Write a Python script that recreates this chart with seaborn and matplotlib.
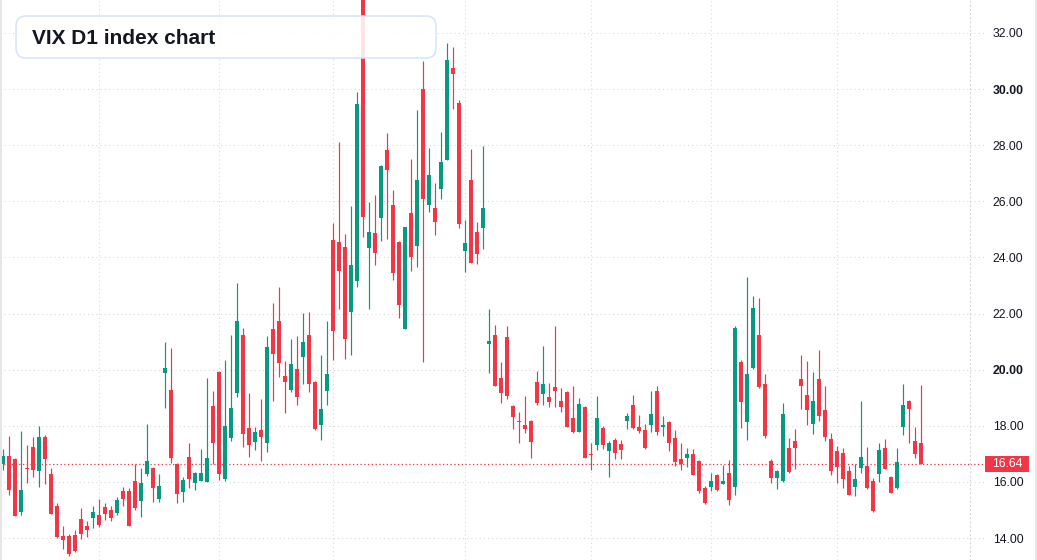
import numpy as np
import pandas as pd
import matplotlib
matplotlib.use("Agg")
import matplotlib.pyplot as plt
import seaborn as sns
from matplotlib.patches import FancyBboxPatch, Rectangle
from matplotlib.lines import Line2D
from matplotlib.transforms import IdentityTransform, blended_transform_factory

# ---------------- data ----------------
opens = [16.63, 16.92, 16.82, 14.94, 16.50, 17.24, 16.40, 17.60, 16.27, 15.14,
         14.07, 14.07, 14.11, 14.68, 14.43, 14.72, 14.82, 15.10, 15.00, 14.89,
         15.67, 15.67, 16.03, 15.33, 16.29, 16.49, 15.40, 19.89, 19.27, 16.64,
         15.65, 16.89, 15.97, 16.04, 16.01, 18.70, 19.93, 16.11, 17.57, 19.18,
         21.23, 17.92, 17.43, 17.85, 17.40, 21.45, 21.73, 19.77, 19.29, 20.02,
         20.46, 21.23, 19.56, 18.04, 19.25, 24.62, 24.55, 24.38, 22.07, 23.17,
         34.20, 24.35, 24.87, 25.41, 27.83, 25.87, 24.55, 21.46, 25.58, 24.42,
         30.00, 25.88, 25.76, 26.45, 27.48, 30.75, 29.50, 24.24, 26.76, 24.92,
         25.06, 20.93, 21.23, 19.70, 21.16, 18.70, 18.17, 18.03, 18.17, 19.56,
         19.14, 19.03, 19.38, 18.89, 19.20, 18.29, 17.79, 18.67, 16.99, 17.33,
         17.93, 17.11, 17.49, 17.35, 18.18, 18.74, 17.96, 17.85, 18.04, 19.24,
         17.97, 18.13, 17.56, 16.82, 16.86, 16.99, 16.75, 15.79, 15.83, 16.26,
         15.93, 16.33, 15.83, 20.27, 18.14, 20.07, 21.23, 19.49, 16.74, 16.15,
         16.04, 17.21, 17.46, 19.67, 19.10, 18.07, 19.67, 18.56, 17.53, 17.10,
         17.03, 16.39, 15.83, 16.51, 16.57, 16.03, 16.29, 17.21, 16.17, 15.79,
         17.97, 18.88, 17.46, 17.39]
highs = [17.17, 17.63, 16.86, 17.81, 17.31, 17.60, 17.99, 17.67, 16.49, 15.25,
         14.43, 14.14, 14.29, 15.07, 14.61, 15.14, 15.39, 15.25, 15.14, 15.46,
         15.82, 15.77, 16.64, 16.49, 18.06, 16.53, 16.28, 20.98, 20.77, 16.66,
         16.18, 17.39, 16.35, 17.17, 19.71, 19.24, 19.96, 20.34, 21.23, 23.09,
         21.48, 19.17, 17.96, 18.95, 21.20, 22.37, 22.94, 20.31, 21.09, 21.20,
         22.02, 22.05, 19.60, 20.52, 21.73, 25.24, 28.11, 24.83, 25.83, 29.89,
         34.90, 25.97, 26.22, 27.30, 28.43, 26.40, 24.57, 25.10, 27.51, 29.25,
         31.00, 27.90, 26.65, 28.47, 31.64, 31.50, 29.61, 25.33, 27.86, 25.27,
         27.97, 22.16, 21.59, 20.27, 21.56, 18.74, 18.49, 19.06, 18.21, 19.95,
         20.84, 19.52, 21.56, 19.36, 19.24, 19.42, 18.99, 18.70, 17.40, 19.06,
         18.00, 17.47, 17.57, 17.49, 18.46, 19.10, 18.38, 18.06, 19.24, 19.42,
         18.35, 18.17, 17.85, 17.39, 17.21, 17.17, 16.79, 15.86, 16.33, 16.29,
         16.60, 16.79, 21.56, 20.34, 23.30, 22.62, 22.55, 19.84, 16.82, 16.42,
         18.81, 17.57, 17.90, 20.52, 20.31, 19.92, 20.70, 19.42, 17.74, 17.28,
         17.21, 16.57, 16.64, 18.88, 17.24, 16.14, 17.39, 17.53, 16.22, 17.21,
         19.49, 18.92, 17.96, 19.45]
lows = [16.42, 15.53, 14.78, 14.83, 15.97, 16.19, 15.83, 15.94, 14.85, 14.00,
        13.62, 13.37, 13.50, 13.96, 14.05, 14.37, 14.40, 14.65, 14.61, 14.83,
        15.15, 14.42, 15.01, 14.76, 16.22, 15.29, 15.29, 18.64, 16.66, 15.26,
        15.29, 15.79, 15.72, 16.02, 15.98, 16.64, 16.08, 16.04, 17.47, 19.04,
        17.25, 16.90, 17.15, 16.75, 17.08, 18.89, 19.75, 18.47, 19.22, 18.75,
        19.50, 19.21, 17.86, 17.50, 18.75, 20.35, 22.17, 20.39, 20.53, 22.93,
        24.74, 22.17, 23.74, 24.60, 24.67, 23.21, 21.85, 21.44, 23.53, 23.67,
        20.28, 25.63, 24.81, 26.09, 27.46, 29.30, 25.06, 23.49, 23.79, 23.78,
        24.31, 19.89, 19.41, 18.82, 18.96, 17.90, 17.40, 17.75, 16.86, 18.75,
        18.75, 18.68, 18.68, 18.49, 17.95, 17.75, 17.77, 16.84, 16.43, 17.15,
        17.18, 16.19, 16.83, 16.83, 17.90, 17.90, 17.75, 17.17, 17.79, 17.68,
        17.64, 17.11, 16.58, 16.43, 16.54, 16.24, 15.61, 15.22, 15.69, 15.69,
        15.93, 15.19, 15.54, 17.93, 17.50, 20.03, 19.36, 17.57, 15.97, 15.76,
        16.01, 16.33, 16.47, 18.61, 18.04, 17.72, 18.18, 17.47, 16.26, 15.97,
        15.79, 15.52, 15.51, 16.33, 15.76, 14.94, 16.01, 16.45, 15.59, 15.76,
        17.68, 17.40, 16.86, 16.64]
closes = [16.92, 15.72, 14.80, 15.71, 16.46, 16.43, 17.60, 16.83, 14.87, 14.05,
          13.94, 13.44, 13.54, 14.15, 14.30, 14.93, 14.47, 14.86, 14.72, 15.35,
          15.40, 14.44, 15.08, 15.96, 16.74, 15.79, 15.85, 20.06, 16.86, 15.58,
          16.08, 16.11, 16.32, 16.32, 16.85, 17.40, 16.29, 18.00, 18.63, 21.73,
          17.72, 17.33, 17.78, 17.61, 20.81, 20.57, 20.25, 19.57, 20.20, 19.04,
          20.98, 19.50, 17.90, 18.60, 19.84, 21.39, 23.53, 21.10, 23.72, 29.47,
          25.45, 24.90, 24.17, 27.26, 27.13, 23.45, 22.31, 25.08, 24.03, 26.76,
          26.09, 26.94, 25.27, 27.40, 31.03, 30.55, 25.20, 24.52, 23.81, 24.13,
          25.76, 21.03, 19.43, 19.18, 19.07, 18.32, 18.13, 17.90, 17.43, 18.82,
          19.49, 18.86, 19.25, 18.68, 17.97, 17.79, 18.78, 16.86, 16.96, 18.28,
          17.33, 17.39, 17.04, 17.15, 18.35, 17.93, 17.82, 17.21, 18.42, 17.79,
          18.03, 17.40, 16.72, 16.65, 16.99, 16.26, 15.69, 15.26, 16.03, 15.72,
          16.03, 15.37, 21.48, 18.86, 19.84, 22.20, 19.39, 17.65, 16.15, 16.39,
          18.42, 16.36, 17.22, 19.43, 18.57, 18.88, 18.36, 17.61, 16.40, 16.54,
          16.11, 15.54, 16.10, 16.89, 15.79, 14.97, 17.14, 16.47, 15.61, 16.71,
          18.74, 18.61, 17.00, 16.64]
month_starts = [16, 36, 55, 77, 98, 118, 139]
y_ticks = [14, 16, 18, 20, 22, 24, 26, 28, 30, 32]
bold_ticks = [20, 30]
last_price = 16.64
title = "VIX D1 index chart"

# ---------------- style ----------------
GREEN = "#089981"
RED = "#F23645"
GRID = "#d4d6da"
TXT = "#131722"

sns.set_theme(style="white")
plt.rcParams["font.family"] = ["Liberation Sans", "DejaVu Sans"]

W, H = 1037, 560
fig = plt.figure(figsize=(W / 100, H / 100), dpi=100)
fig.patch.set_facecolor("white")
ax = fig.add_axes([0, 0, 970 / W, 1])

df = pd.DataFrame({"o": opens, "h": highs, "l": lows, "c": closes})
df["x"] = np.arange(len(df))
up = df["c"] >= df["o"]
cols = np.where(up, GREEN, RED)

ax.vlines(df["x"], df["l"], df["h"], colors=cols, lw=0.85, zorder=3)
bottom = np.minimum(df["o"], df["c"])
height = np.maximum((df["c"] - df["o"]).abs(), 0.045)
ax.bar(df["x"], height, bottom=bottom, width=0.667, color=cols, lw=0, zorder=4)

ax.set_xlim(-0.55, 161.1)
ax.set_ylim(13.216, 33.176)

ax.set_xticks(month_starts)
ax.set_xticklabels([])
ax.set_yticks(y_ticks)
ax.set_yticklabels([f"{v:.2f}" for v in y_ticks])
ax.yaxis.tick_right()
ax.tick_params(axis="both", length=0)
ax.tick_params(axis="y", pad=16.5, labelsize=8.8, labelcolor=TXT)
for lab, v in zip(ax.get_yticklabels(), y_ticks):
    if v in bold_ticks:
        lab.set_fontweight("bold")
ax.grid(True, color=GRID, linestyle=(0, (1, 3)), lw=0.75, zorder=0)
for s in ["top", "left", "bottom"]:
    ax.spines[s].set_visible(False)
ax.spines["right"].set_color(GRID)
ax.spines["right"].set_linestyle((0, (1, 3)))
ax.spines["right"].set_linewidth(0.75)

blend = blended_transform_factory(IdentityTransform(), ax.transData)
# short grid extensions into the price scale
for v in y_ticks:
    ax.add_line(Line2D([970, 984], [v, v], transform=blend, color=GRID,
                       linestyle=(0, (1, 3)), lw=0.75, clip_on=False))

# current price line and label
ax.axhline(last_price, color=RED, linestyle=(0, (1, 2)), lw=0.9, zorder=2)
ax.add_line(Line2D([970, 985], [last_price, last_price], transform=blend,
                   color=RED, linestyle=(0, (1, 2)), lw=0.9, clip_on=False))
ax.add_patch(Rectangle((985, last_price - 0.28), 44, 0.56, transform=blend,
                       facecolor=RED, edgecolor="none", clip_on=False, zorder=6))
ax.text(1007, last_price, f"{last_price:.2f}", transform=blend, color="white",
        ha="center", va="center", fontsize=8.8, clip_on=False, zorder=7)

# title box
box = FancyBboxPatch((16, H - 58), 420, 42,
                     boxstyle="round,pad=0,rounding_size=10",
                     transform=IdentityTransform(),
                     facecolor=(1, 1, 1, 0.88), edgecolor="#d6e4f8", lw=1.1, zorder=5)
fig.add_artist(box)
fig.text(32, H - 38, title, transform=IdentityTransform(), fontsize=15,
         fontweight="bold", color=TXT, va="center", ha="left", zorder=6)

# page edges
fig.add_artist(Rectangle((0, 0), 2, H, transform=IdentityTransform(),
                         facecolor="#e6e6e6", edgecolor="none", zorder=6))
fig.add_artist(Rectangle((W - 2, 0), 2, H, transform=IdentityTransform(),
                         facecolor="#e6e6e6", edgecolor="none", zorder=6))

fig.savefig("out.png", dpi=100)
